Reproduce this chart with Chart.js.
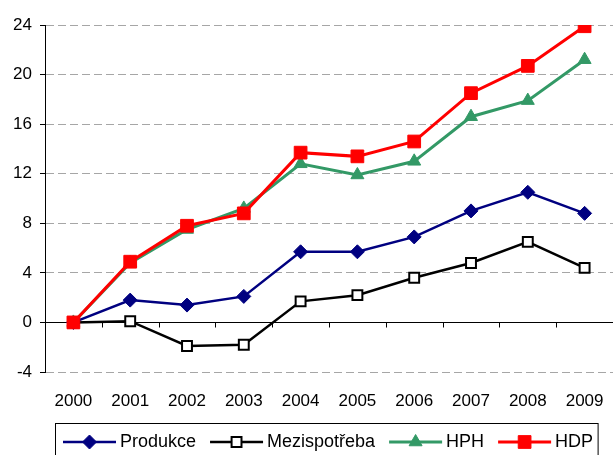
<!DOCTYPE html>
<html>
<head>
<meta charset="utf-8">
<script src="https://cdn.jsdelivr.net/npm/chart.js@4/dist/chart.umd.min.js"></script>
<style>
  html, body { margin: 0; padding: 0; background: #fff; }
  #wrap { width: 613px; height: 455px; }
</style>
</head>
<body>
<div id="wrap"><canvas id="vyvojChart" width="613" height="455"></canvas></div>
<script>
const years = ['2000', '2001', '2002', '2003', '2004', '2005', '2006', '2007', '2008', '2009'];
const produkce = [0, 1.8, 1.4, 2.1, 5.7, 5.7, 6.9, 9.0, 10.5, 8.8];
const mezispotreba = [0, 0.1, -1.9, -1.8, 1.7, 2.2, 3.6, 4.8, 6.5, 4.4];
const hph = [0, 4.8, 7.5, 9.2, 12.8, 11.9, 13.0, 16.6, 17.9, 21.2];
const hdp = [0, 4.9, 7.8, 8.8, 13.7, 13.4, 14.6, 18.5, 20.7, 23.9];
const yMin = -4, yMax = 24, yStep = 4;

const FONT = "'Liberation Sans', Arial, sans-serif";

// solid zero line with small tick marks between the years (Excel style)
const zeroAxis = {
    id: 'zeroAxis',
    beforeDatasetsDraw(chart) {
        const c = chart.ctx, x = chart.scales.x, y = chart.scales.y;
        const y0 = Math.round(y.getPixelForValue(0)) + 0.5;
        c.save();
        c.strokeStyle = '#000';
        c.lineWidth = 1;
        c.beginPath();
        c.moveTo(chart.chartArea.left, y0);
        c.lineTo(chart.chartArea.right, y0);
        for (let i = 1; i < years.length; i++) {
            const px = Math.round((x.getPixelForValue(i - 1) + x.getPixelForValue(i)) / 2) + 0.5;
            c.moveTo(px, y0);
            c.lineTo(px, y0 + 5);
        }
        c.stroke();
        c.restore();
    }
};

// legend in a box with line + marker samples
const boxLegend = {
    id: 'boxLegend',
    afterDraw(chart) {
        const c = chart.ctx;
        const top = 423.5, cy = 442;
        let x = 63;
        c.save();
        c.font = '18px ' + FONT;
        c.textBaseline = 'middle';
        chart.data.datasets.forEach(ds => {
            c.strokeStyle = ds.borderColor;
            c.lineWidth = ds.borderWidth;
            c.beginPath();
            c.moveTo(x, cy);
            c.lineTo(x + 53, cy);
            c.stroke();
            c.fillStyle = ds.pointBackgroundColor;
            c.strokeStyle = ds.pointBorderColor;
            c.lineWidth = ds.pointBorderWidth;
            Chart.helpers.drawPoint(c, {pointStyle: ds.pointStyle, radius: ds.pointRadius, borderWidth: ds.pointBorderWidth, rotation: 0}, x + 26.5, cy);
            c.fillStyle = '#000';
            c.fillText(ds.label, x + 57, cy);
            x += 57 + c.measureText(ds.label).width + 14;
        });
        c.strokeStyle = '#000';
        c.lineWidth = 1;
        c.strokeRect(55.5, top, x - 14 + 5 - 55.5, 40);
        c.restore();
    }
};

const ctx = document.getElementById('vyvojChart').getContext('2d');
const vyvojChart = new Chart(ctx, {
    type: 'line',
    data: {
        labels: years,
        datasets: [{
            label: 'Produkce',
            data: produkce,
            borderColor: '#000080',
            borderWidth: 2.5,
            pointStyle: 'rectRot',
            pointRadius: 7,
            pointBackgroundColor: '#000080',
            pointBorderColor: '#000080',
            pointBorderWidth: 1,
            order: 4
        }, {
            label: 'Mezispotřeba',
            data: mezispotreba,
            borderColor: '#000',
            borderWidth: 2.5,
            pointStyle: 'rect',
            pointRadius: 7,
            pointBackgroundColor: '#fff',
            pointBorderColor: '#000',
            pointBorderWidth: 2,
            order: 3
        }, {
            label: 'HPH',
            data: hph,
            borderColor: '#339966',
            borderWidth: 3,
            pointStyle: 'triangle',
            pointRadius: 7.5,
            pointBackgroundColor: '#339966',
            pointBorderColor: '#339966',
            pointBorderWidth: 1,
            order: 2
        }, {
            label: 'HDP',
            data: hdp,
            borderColor: '#ff0000',
            borderWidth: 3,
            pointStyle: 'rect',
            pointRadius: 9,
            pointBackgroundColor: '#ff0000',
            pointBorderColor: '#ff0000',
            pointBorderWidth: 1,
            order: 1
        }]
    },
    options: {
        responsive: false,
        animation: false,
        events: [],
        layout: { autoPadding: false, padding: { top: 25, right: -2, bottom: 0, left: 0 } },
        plugins: {
            legend: { display: false },
            tooltip: { enabled: false }
        },
        elements: { line: { tension: 0 } },
        scales: {
            x: {
                offset: true,
                grid: { display: false, drawTicks: false },
                border: { display: false },
                ticks: { color: '#000', font: { family: FONT, size: 17 }, padding: 19, maxRotation: 0 },
                afterFit(scale) {
                    scale.height = 83;
                    scale.paddingLeft = 0;
                    scale.paddingRight = 0;
                }
            },
            y: {
                min: yMin,
                max: yMax,
                ticks: { stepSize: yStep, color: '#000', font: { family: FONT, size: 17 }, padding: 8 },
                grid: {
                    color: c => c.tick && c.tick.value === 0 ? 'rgba(0,0,0,0)' : '#a6a6a6',
                    tickColor: '#000',
                    tickLength: 5,
                    lineWidth: 1
                },
                border: { display: true, color: '#000', width: 1, dash: [8, 4] },
                afterFit(scale) { scale.width = 45; }
            }
        }
    },
    plugins: [zeroAxis, boxLegend]
});
</script>
</body>
</html>
